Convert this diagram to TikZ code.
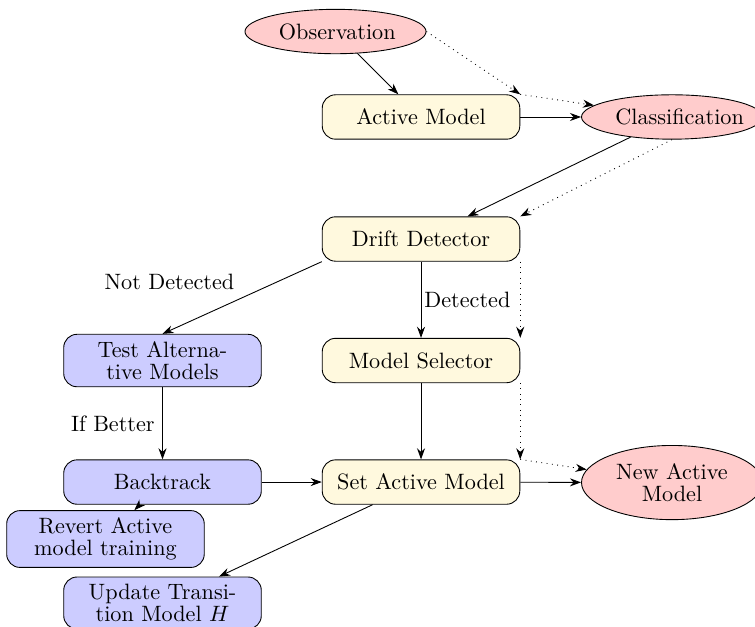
\documentclass[tikz,border=0pt]{standalone}
\usepackage{amsmath,amssymb}
\usepackage{xcolor}
\usepackage{tikz}
\usetikzlibrary{shapes.geometric,arrows.meta}

\definecolor{blockyellow}{RGB}{255,249,222}

\begin{document}
\begin{tikzpicture}[
    >={Stealth[length=5pt,width=3.6pt]},
    txt/.style={font=\fontsize{10pt}{9.7pt}\selectfont},
    block/.style={txt,rectangle,draw,rounded corners=6pt,text width=8em,
        align=center,minimum width=8.9em,minimum height=2em},
    yblock/.style={block,fill=blockyellow},
    bblock/.style={block,fill=blue!20},
    cloud/.style={txt,ellipse,draw,fill=red!20,text width=5.1em,
        align=center,minimum height=2em},
    line/.style={draw,->},
    dline/.style={draw,dotted,->}
    ]
        \useasboundingbox (0,0) rectangle (11.954,-9.927);
        % middle column
        \node[cloud] (obs) at (5.312,-0.499) {Observation};
        \node[yblock] (active) at (6.666,-1.852) {Active Model};
        \node[cloud] (class) at (10.640,-1.852) {Classification};
        \node[yblock] (drift) at (6.666,-3.784) {Drift Detector};
        \node[yblock] (selector) at (6.666,-5.708) {Model Selector};
        \node[yblock] (setactive) at (6.666,-7.632) {Set Active Model};
        \node[cloud] (newactive) at (10.640,-7.640) {New Active\\Model};
        % left column
        \node[bblock] (test) at (2.573,-5.708) {Test Alterna-\\tive Models};
        \node[bblock] (backtrack) at (2.573,-7.632) {Backtrack};
        \node[bblock] (revert) at (1.670,-8.534) {Revert Active\\model training};
        \node[bblock] (update) at (2.573,-9.547) {Update Transi-\\tion Model $H$};

        % solid flow
        \path[line] (obs) -- (active);
        \path[line] (active) -- (class);
        \path[line] (class) -- (drift);
        \path[line] (drift.south west) -- node[txt,above left] {Not Detected} (test.north);
        \path[line] (drift) -- node[txt,right,xshift=-2pt] {Detected} (selector);
        \path[line] (selector) -- (setactive);
        \path[line] (setactive) -- (newactive);
        \path[line] (test) -- node[txt,left] {If Better} (backtrack);
        \path[line] (backtrack) -- (setactive);
        \path[line] (backtrack) -- (revert);
        \path[line] (setactive) -- (update);

        % dotted flow
        \path[dline] (obs.east) -- (active.north east);
        \path[dline] (active.north east) -- (class);
        \path[dline] (class.south) -- (drift.north east);
        \path[dline] (drift.south east) -- (selector.north east);
        \path[dline] (selector.south east) -- (setactive.north east);
        \path[dline] (setactive.north east) -- (newactive);
\end{tikzpicture}
\end{document}
